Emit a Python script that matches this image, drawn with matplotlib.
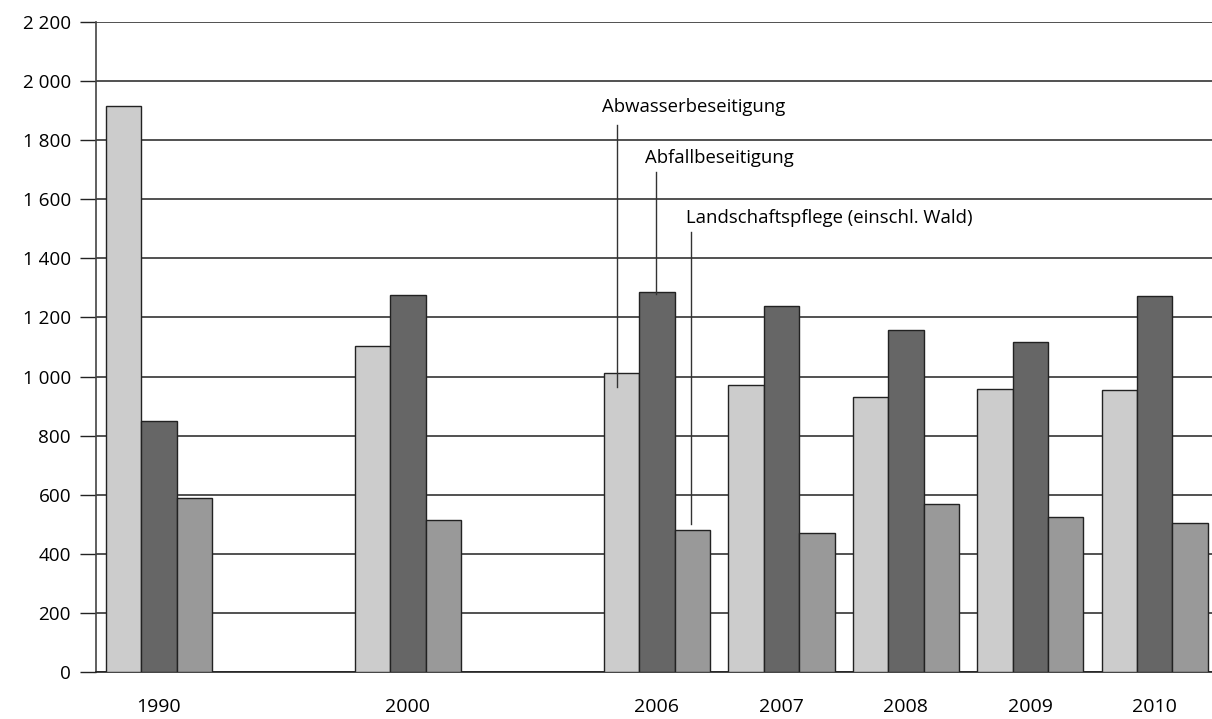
import matplotlib
matplotlib.use("Agg")
import matplotlib.pyplot as plt
import numpy as np

years = ["1990", "2000", "2006", "2007", "2008", "2009", "2010"]
positions = [0, 2, 4, 5, 6, 7, 8]
series_names = ["Abwasserbeseitigung", "Abfallbeseitigung", "Landschaftspflege (einschl. Wald)"]
abwasser = [1915, 1102, 1013, 973, 932, 957, 955]
abfall = [849, 1277, 1287, 1239, 1158, 1118, 1272]
landschaft = [589, 513, 479, 469, 570, 523, 506]
yticks = [0, 200, 400, 600, 800, 1000, 1200, 1400, 1600, 1800, 2000, 2200]
ytick_labels = ["0", "200", "400", "600", "800", "1 000", "1 200", "1 400", "1 600", "1 800", "2 000", "2 200"]

colors = ["#cccccc", "#666666", "#999999"]
plt.rcParams['font.family'] = ['Open Sans', 'DejaVu Sans']

fig = plt.figure(figsize=(12.12, 7.19), dpi=100)
W, H = 1212, 719
ax = fig.add_axes([96 / W, 47 / H, (W - 96) / W, 650 / H])

bw = 0.285
x = np.array(positions, dtype=float)
all_series = [abwasser, abfall, landschaft]
for i, (vals, c) in enumerate(zip(all_series, colors)):
    ax.bar(x + (i - 1) * bw, vals, width=bw, color=c, edgecolor="#222222",
           linewidth=1.0, zorder=3)

ax.set_ylim(0, 2200)
ax.set_xlim(-0.506, 8.46)
ax.set_yticks(yticks)
ax.set_yticklabels(ytick_labels, fontsize=13.6)
ax.set_xticks(x)
ax.set_xticklabels(years, fontsize=14)
ax.tick_params(axis="y", length=11.5, width=1.0, color="#222222", pad=6.5, direction="out")
ax.tick_params(axis="x", length=0, pad=19)
ax.yaxis.grid(True, color="#222222", linewidth=1.1, zorder=0)
ax.set_axisbelow(True)
for s in ["top", "right"]:
    ax.spines[s].set_visible(False)
ax.spines["left"].set_color("#444444")
ax.spines["left"].set_linewidth(1.2)
ax.spines["bottom"].set_color("#222222")
ax.spines["bottom"].set_linewidth(1.2)

# annotations pointing to the 2006 group
idx = 2
label_specs = [
    # (line x offset, line top, line bottom, text x, text y)
    (-0.036, 1853, 963, 3.558, 1914),
    (-0.008, 1694, 1278, 3.904, 1741),
    (-0.012, 1488, 500, 4.233, 1538),
]
for i, (dx, ytop, ybot, tx, ty) in enumerate(label_specs):
    lx = x[idx] + (i - 1) * bw + dx
    ax.plot([lx, lx], [ybot, ytop], color="#333333", linewidth=1.0, zorder=5)
    ax.text(tx, ty, series_names[i], fontsize=13.3, ha="left", va="center", zorder=6)

fig.savefig("out.png", dpi=100)
